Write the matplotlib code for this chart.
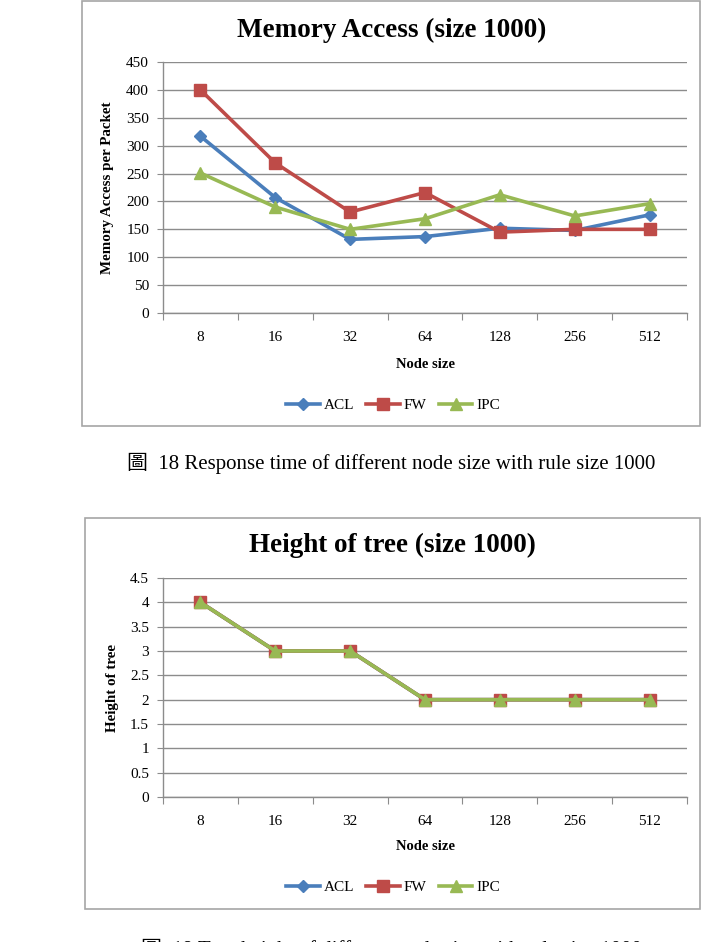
import matplotlib
matplotlib.use("Agg")
import matplotlib.pyplot as plt
from matplotlib.patches import Rectangle
from matplotlib.lines import Line2D

plt.rcParams['font.family'] = ['Liberation Serif', 'Noto Sans CJK TC']

node_sizes = ["8", "16", "32", "64", "128", "256", "512"]
series_names = ["ACL", "FW", "IPC"]
mem_acl = [317, 207, 132, 137, 152, 148, 176]
mem_fw = [400, 269, 181, 216, 145, 150, 150]
mem_ipc = [251, 190, 150, 169, 212, 174, 196]
h_acl = [4, 3, 3, 2, 2, 2, 2]
h_fw = [4, 3, 3, 2, 2, 2, 2]
h_ipc = [4, 3, 3, 2, 2, 2, 2]
mem_ticks = [0, 50, 100, 150, 200, 250, 300, 350, 400, 450]
h_ticks = [0, 0.5, 1, 1.5, 2, 2.5, 3, 3.5, 4, 4.5]
h_tick_labels = ["0", "0.5", "1", "1.5", "2", "2.5", "3", "3.5", "4", "4.5"]

colors = ["#4a7ebb", "#be4b48", "#98b954"]
markers = ["D", "s", "^"]
msizes = [6, 8, 8]

W, H = 715, 942
fig = plt.figure(figsize=(W / 100, H / 100), dpi=100)
fig.patch.set_facecolor("white")


def fx(px):
    return px / W


def fy(py):
    return 1 - py / H


def box(x0, y0, x1, y1):
    fig.patches.append(Rectangle((fx(x0), fy(y1)), fx(x1) - fx(x0), fy(y0) - fy(y1),
                                 transform=fig.transFigure, fill=False,
                                 edgecolor="#a6a6a6", linewidth=1.2))


def make_chart(top, bottom, title, title_y, ylabel, ylab_x, ticks, tick_labels, ymax,
               data, xlab_y, leg_y, box_coords):
    box(*box_coords)
    ax = fig.add_axes([fx(163), fy(bottom), fx(687) - fx(163), fy(top) - fy(bottom)])
    x = list(range(len(node_sizes)))
    for vals, c, m, ms, name in zip(data, colors, markers, msizes, series_names):
        ax.plot(x, vals, color=c, marker=m, markersize=ms, linewidth=2.6,
                label=name, clip_on=False, zorder=3)
    ax.set_xlim(-0.5, len(node_sizes) - 0.5)
    ax.set_ylim(0, ymax)
    ax.set_yticks(ticks)
    ax.set_yticklabels(tick_labels, fontsize=11)
    ax.yaxis.grid(True, color="#8c8c8c", linewidth=1.0)
    ax.set_axisbelow(True)
    ax.set_xticks([i - 0.5 for i in range(len(node_sizes) + 1)])
    ax.set_xticklabels([])
    ax.set_xticks(x, minor=True)
    ax.set_xticklabels(node_sizes, minor=True, fontsize=11)
    ax.tick_params(axis="x", which="major", length=5, color="#8c8c8c", direction="out")
    ax.tick_params(axis="x", which="minor", length=0, pad=13)
    ax.tick_params(axis="y", length=4, color="#8c8c8c", pad=6)
    for s in ["top", "right"]:
        ax.spines[s].set_visible(False)
    for s in ["left", "bottom"]:
        ax.spines[s].set_color("#8c8c8c")
        ax.spines[s].set_linewidth(1.0)
    fig.text(fx(392), fy(title_y), title, fontsize=19.5, fontweight="bold",
             ha="center", va="center")
    fig.text(fx(ylab_x), fy((top + bottom) / 2), ylabel, fontsize=10.8, fontweight="bold",
             rotation=90, ha="center", va="center")
    fig.text(fx(425), fy(xlab_y), "Node size", fontsize=10.5, fontweight="bold",
             ha="center", va="center")
    handles = [Line2D([], [], color=c, marker=m, markersize=ms, linewidth=2.6)
               for c, m, ms in zip(colors, markers, msizes)]
    fig.legend(handles, series_names, loc="center", bbox_to_anchor=(fx(393), fy(leg_y)),
               ncol=3, frameon=False, fontsize=11, handlelength=2.2,
               handletextpad=0.25, columnspacing=0.8)
    return ax


make_chart(62, 313, "Memory Access (size 1000)", 30, "Memory Access per Packet", 107,
           mem_ticks, [str(t) for t in mem_ticks], 450,
           [mem_acl, mem_fw, mem_ipc], 365, 405, (82, 1, 700, 426))

make_chart(578, 797, "Height of tree (size 1000)", 545, "Height of tree", 112,
           h_ticks, h_tick_labels, 4.5,
           [h_acl, h_fw, h_ipc], 847, 887, (85, 518, 700, 909))

fig.text(fx(391), fy(463), "圖  18 Response time of different node size with rule size 1000",
         fontsize=15, ha="center", va="center")
fig.text(fx(391), fy(955), "圖  19 Tree height of different node size with rule size 1000",
         fontsize=15, ha="center", va="baseline")

fig.savefig("out.png", dpi=100)
